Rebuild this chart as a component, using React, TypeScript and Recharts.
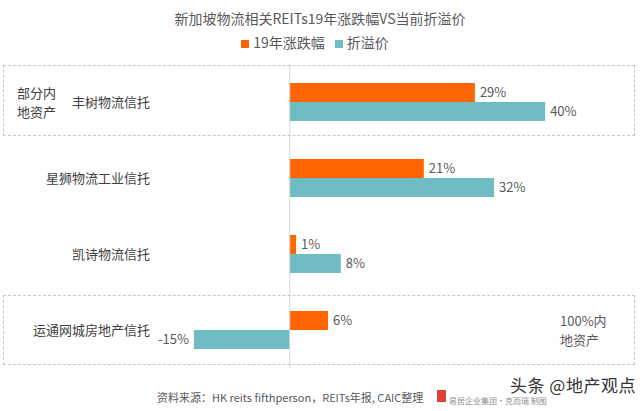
import { BarChart, Bar, XAxis, YAxis, Legend, LabelList, ReferenceLine } from 'recharts';

const categories = ['丰树物流信托', '星狮物流工业信托', '凯诗物流信托', '运通网城房地产信托'];
const change2019 = [29, 21, 1, 6];
const premium = [40, 32, 8, -15];

const data = categories.map((name, i) => ({ name, change: change2019[i], premium: premium[i] }));

const FONT = '"Noto Sans CJK SC", "Noto Sans", sans-serif';
const TEXT = '#595959';

const boxStyle: React.CSSProperties = {
  position: 'absolute',
  border: '1px dashed #c8c8c8',
  pointerEvents: 'none',
};

export default function App() {
  return (
    <div style={{ position: 'absolute', left: 0, top: 0, width: 640, height: 411, background: '#fff', fontFamily: FONT }}>
      <div style={{ position: 'absolute', top: 8, width: 640, textAlign: 'center', fontSize: 14, lineHeight: '20px', color: TEXT }}>
        新加坡物流相关REITs19年涨跌幅VS当前折溢价
      </div>
      <BarChart
        width={640}
        height={411}
        data={data}
        layout="vertical"
        margin={{ top: 44, right: 31, bottom: 43, left: 0 }}
        barGap={0}
        barSize={19}
      >
        <XAxis type="number" domain={[-20, 50]} hide />
        <YAxis
          type="category"
          dataKey="name"
          width={162}
          axisLine={false}
          tickLine={false}
          tickMargin={6}
          tick={{ fill: '#404040', fontSize: 13, fontFamily: FONT }}
        />
        <ReferenceLine x={0} stroke="#d9d9d9" />
        <Legend
          verticalAlign="top"
          align="center"
          iconType="square"
          iconSize={8}
          wrapperStyle={{ top: 32, left: 0, width: 640, fontSize: 14, fontFamily: FONT }}
          formatter={(v) => <span style={{ color: TEXT }}>{v}</span>}
        />
        <Bar dataKey="change" name="19年涨跌幅" fill="#FF6600" isAnimationActive={false}>
          <LabelList dataKey="change" position="right" formatter={(v: number) => `${v}%`} fill={TEXT} fontSize={13} fontFamily={FONT} />
        </Bar>
        <Bar dataKey="premium" name="折溢价" fill="#6FBCC3" isAnimationActive={false}>
          <LabelList dataKey="premium" position="right" formatter={(v: number) => `${v}%`} fill={TEXT} fontSize={13} fontFamily={FONT} />
        </Bar>
      </BarChart>
      <div style={{ ...boxStyle, left: 3, top: 65, width: 630, height: 69 }} />
      <div style={{ ...boxStyle, left: 3, top: 295, width: 630, height: 68 }} />
      <div style={{ position: 'absolute', left: 17, top: 83, fontSize: 13, lineHeight: '19px', color: '#404040' }}>
        部分内<br />地资产
      </div>
      <div style={{ position: 'absolute', left: 560, top: 311, fontSize: 13, lineHeight: '19px', color: TEXT }}>
        100%内<br />地资产
      </div>
      <div style={{ position: 'absolute', left: 157, top: 389, fontSize: 11, color: TEXT }}>
        资料来源：HK reits fifthperson，REITs年报, CAIC整理
      </div>
      <div style={{ position: 'absolute', left: 437, top: 390, width: 9, height: 12, background: '#e0403c' }} />
      <div style={{ position: 'absolute', left: 449, top: 396, fontSize: 8, lineHeight: '10px', color: '#8c8c8c' }}>
        易居企业集团·克而瑞 制图
      </div>
      <div style={{ position: 'absolute', left: 510, top: 375, fontSize: 17, lineHeight: '19px', color: '#333', letterSpacing: 0.5 }}>
        头条 @地产观点
      </div>
    </div>
  );
}
